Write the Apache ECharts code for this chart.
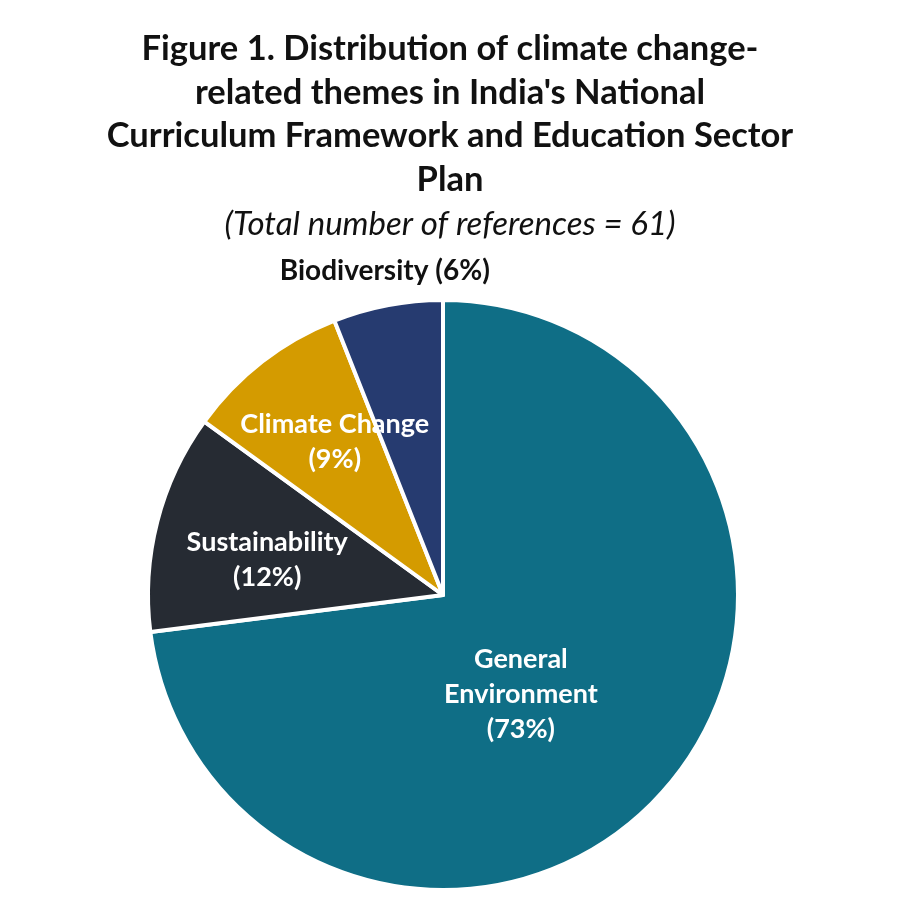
<!DOCTYPE html>
<html>
<head>
<meta charset="utf-8">
<script src="https://cdn.jsdelivr.net/npm/echarts@6/dist/echarts.min.js"></script>
<style>
  html, body { margin: 0; padding: 0; background: #fff; }
  #chart { width: 900px; height: 900px; }
</style>
</head>
<body>
<div id="chart"></div>
<script>
const themes = ['General\nEnvironment', 'Sustainability', 'Climate Change', 'Biodiversity'];
const shares = [73, 12, 9, 6];
const colors = ['#0f6e86', '#262b33', '#d49b00', '#263b70'];

// nudges from the default inside position, per slice
const labelNudge = [[-35, 0], [-30, 2], [-16, -34], [-30, -176]];

const font = 'Lato, "Open Sans", sans-serif';

const chart = echarts.init(document.getElementById('chart'));

chart.setOption({
  animation: false,
  title: {
    text: "Figure 1. Distribution of climate change-\nrelated themes in India's National\nCurriculum Framework and Education Sector\nPlan",
    subtext: '(Total number of references = 61)',
    left: 'center',
    top: 22,
    itemGap: 6,
    textStyle: { fontFamily: font, fontWeight: 'bold', fontSize: 34.5, lineHeight: 43.7, color: '#111' },
    subtextStyle: { fontFamily: font, fontStyle: 'italic', fontSize: 33, color: '#111' },
  },
  series: [{
    type: 'pie',
    center: [443, 595],
    radius: [0, 295],
    startAngle: 90,
    clockwise: true,
    itemStyle: { borderColor: '#fff', borderWidth: 4 },
    label: {
      position: 'inside',
      fontFamily: font,
      fontWeight: 'bold',
      fontSize: 27,
      lineHeight: 35,
      color: '#fff',
      formatter: (p) => `${p.name}\n(${p.value}%)`,
    },
    labelLayout: (p) => ({ dx: labelNudge[p.dataIndex][0], dy: labelNudge[p.dataIndex][1] }),
    emphasis: { disabled: true },
    data: themes.map((name, i) => ({
      name,
      value: shares[i],
      itemStyle: { color: colors[i] },
      label: i === 3 ? { color: '#111', fontSize: 28, formatter: (p) => `${p.name} (${p.value}%)` } : undefined,
    })),
  }],
});
</script>
</body>
</html>
